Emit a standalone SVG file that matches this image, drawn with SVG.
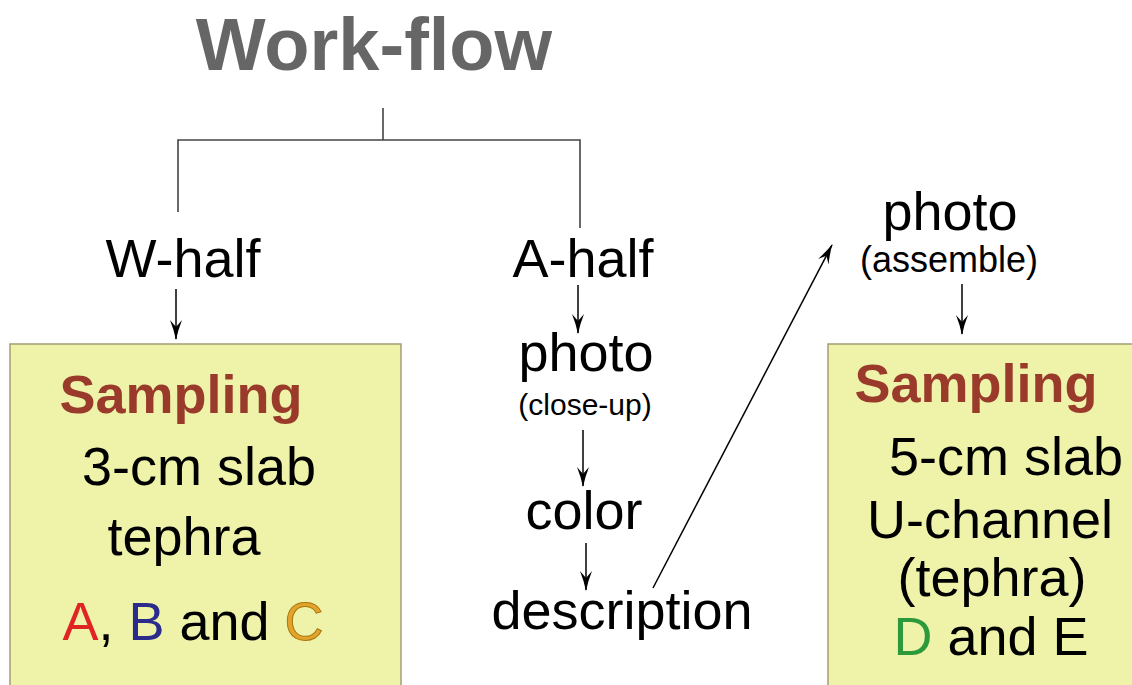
<svg xmlns="http://www.w3.org/2000/svg" width="1132" height="685" viewBox="0 0 1132 685">
  <style>
    .t { font-family: "Liberation Sans", Arial, sans-serif; fill: #000; text-anchor: middle; }
    .big { font-size: 54px; }
    .small { font-size: 30px; }
    .head { font-weight: bold; font-size: 54px; fill: #993a2b; }
    .box { fill: #eef3a9; stroke: #a49d74; stroke-width: 1.5; }
    .tree { fill: none; stroke: #444; stroke-width: 1.6; }
    .arrow { fill: none; stroke: #000; stroke-width: 1.5; marker-end: url(#head); }
  </style>
  <defs>
    <marker id="head" viewBox="0 0 20 13" refX="19" refY="6.5" markerWidth="20" markerHeight="13" markerUnits="userSpaceOnUse" orient="auto">
      <path d="M0,0.5 Q10,4.5 20,6.5 Q10,8.5 0,12.5 L7,6.5 Z" fill="#000"/>
    </marker>
  </defs>
  <rect width="1132" height="685" fill="#fff"/>

  <text id="title" class="t" x="374" y="70" font-size="74" font-weight="bold" style="fill:#666">Work-flow</text>

  <g id="connectors">
    <path class="tree" d="M383,108 V140 M178,212 V140 H580 V228"/>
    <line class="arrow" x1="176" y1="289" x2="176" y2="339"/>
    <line class="arrow" x1="578" y1="285" x2="578" y2="333"/>
    <line class="arrow" x1="583" y1="430" x2="583" y2="486"/>
    <line class="arrow" x1="586" y1="543" x2="586" y2="590"/>
    <line class="arrow" x1="653" y1="588" x2="832" y2="245"/>
    <line class="arrow" x1="962" y1="284" x2="962" y2="334"/>
  </g>

  <g id="w-half"><text class="t big" x="183" y="277">W-half</text></g>
  <g id="a-half"><text class="t big" x="583" y="277">A-half</text></g>
  <g id="photo-closeup">
    <text class="t big" x="586" y="371">photo</text>
    <text class="t small" x="585" y="415">(close-up)</text>
  </g>
  <g id="color"><text class="t big" x="584" y="529">color</text></g>
  <g id="description"><text class="t big" x="622" y="629">description</text></g>
  <g id="photo-assemble">
    <text class="t big" x="950" y="230">photo</text>
    <text class="t" x="949" y="272" font-size="36">(assemble)</text>
  </g>

  <g id="sampling-w">
    <rect class="box" x="10" y="344" width="391" height="360"/>
    <text class="t head" x="181" y="413">Sampling</text>
    <text class="t big" x="199" y="485">3-cm slab</text>
    <text class="t big" x="184" y="555">tephra</text>
    <text class="t big" x="193" y="640"><tspan style="fill:#e02424">A</tspan>, <tspan style="fill:#2b2b8c">B</tspan> and <tspan style="fill:#e2a42c;stroke:#a8760c;stroke-width:1">C</tspan></text>
  </g>

  <g id="sampling-a">
    <rect class="box" x="828" y="344" width="320" height="360"/>
    <text class="t head" x="976" y="402">Sampling</text>
    <text class="t big" x="1006" y="475">5-cm slab</text>
    <text class="t big" x="990" y="538">U-channel</text>
    <text class="t big" x="992" y="596">(tephra)</text>
    <text class="t big" x="991" y="655"><tspan style="fill:#2c9a3a">D</tspan> and E</text>
  </g>
</svg>
